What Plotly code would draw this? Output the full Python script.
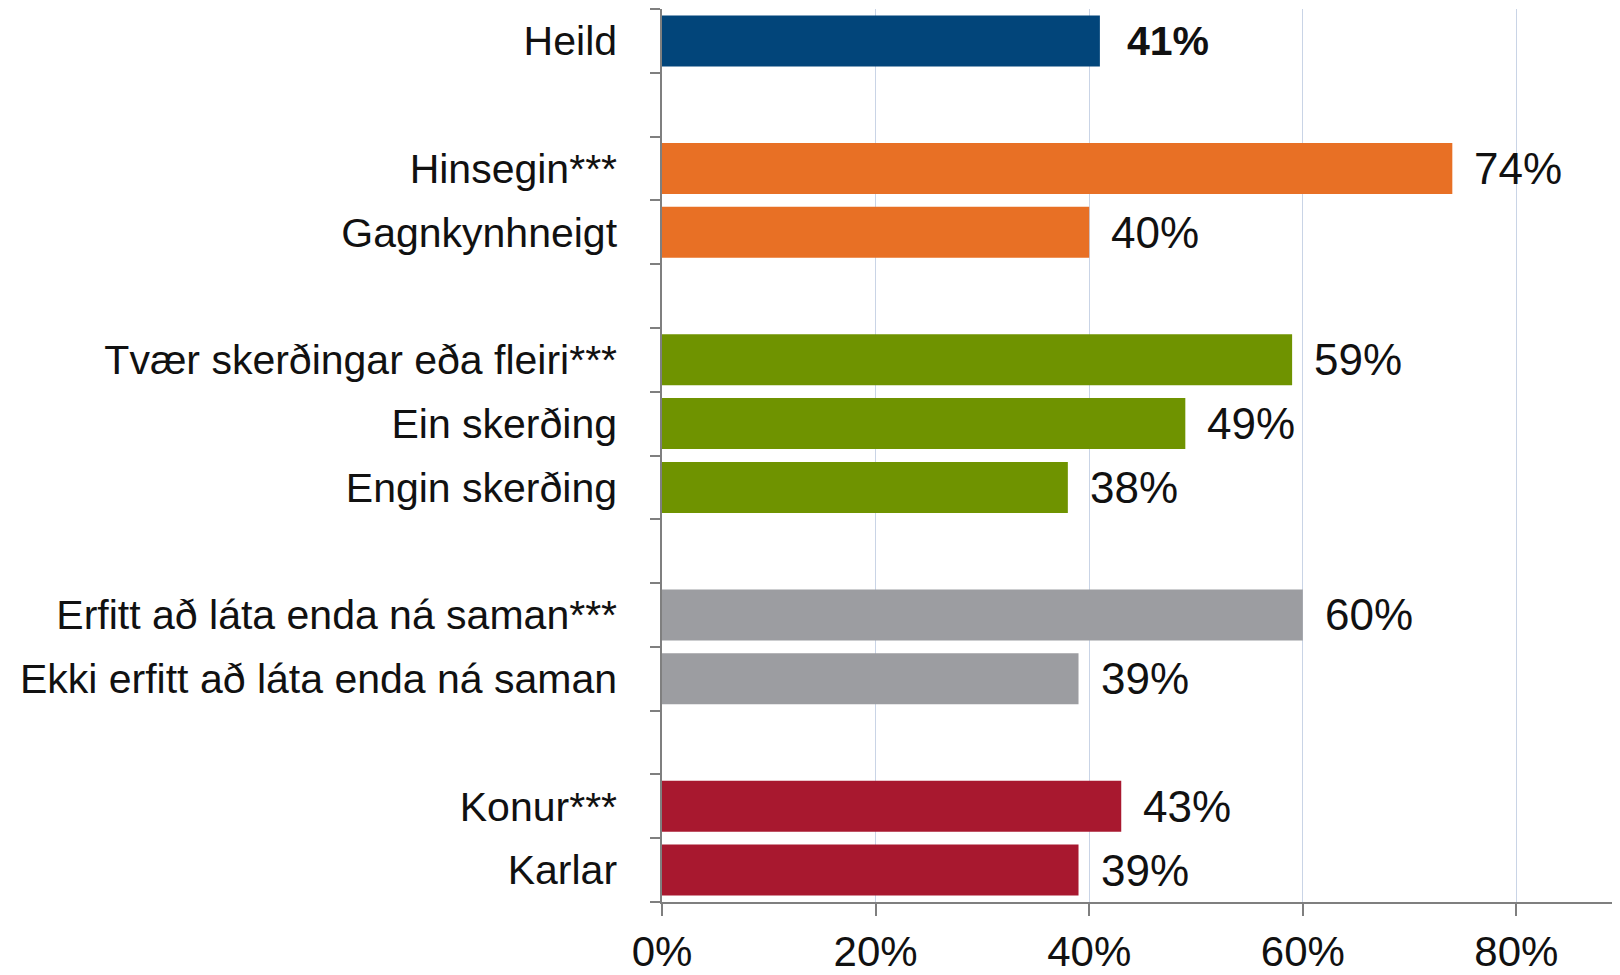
import plotly.graph_objects as go

categories = [
    "Heild",
    "Hinsegin***",
    "Gagnkynhneigt",
    "Tvær skerðingar eða fleiri***",
    "Ein skerðing",
    "Engin skerðing",
    "Erfitt að láta enda ná saman***",
    "Ekki erfitt að láta enda ná saman",
    "Konur***",
    "Karlar",
]
values = [41, 74, 40, 59, 49, 38, 60, 39, 43, 39]
groups = [0, 1, 1, 2, 2, 2, 3, 3, 4, 4]
group_colors = ["#02457A", "#E87025", "#6F9300", "#9C9DA1", "#A8182F"]
x_ticks = [0, 20, 40, 60, 80]

# row position: one empty row between groups
rows = [i + g for i, g in enumerate(groups)]
colors = [group_colors[g] for g in groups]
n_rows = rows[-1] + 1

FONT = "Liberation Sans, Arial, sans-serif"

fig = go.Figure()
fig.add_trace(go.Bar(
    x=values,
    y=rows,
    orientation="h",
    marker=dict(color=colors, line=dict(width=0)),
    hoverinfo="skip",
))

for i, (v, r) in enumerate(zip(values, rows)):
    bold = groups[i] == 0
    txt = f"<b>{v}%</b>" if bold else f"{v}%"
    fig.add_annotation(
        x=v, y=r, text=txt, showarrow=False,
        xanchor="left", yanchor="middle", xshift=25 if bold else 20,
        font=dict(family=FONT, size=41 if bold else 44, color="#111111"),
    )

# page body has an 8px margin; figure sized to fit the 1620x975 window
fig.update_layout(
    width=1612, height=967,
    margin=dict(l=654, r=0, t=1, b=73, autoexpand=False),
    paper_bgcolor="white", plot_bgcolor="white",
    bargap=0.2,
    showlegend=False,
    font=dict(family=FONT, color="#111111"),
)
fig.update_xaxes(
    range=[0, 89.7],
    tickvals=x_ticks,
    ticktext=[f"{t}%" for t in x_ticks],
    ticks="outside", ticklen=12, tickwidth=1.5, tickcolor="#7F7F7F",
    tickfont=dict(family=FONT, size=42, color="#111111"),
    showgrid=True, gridcolor="#C9D4E6", gridwidth=1,
    zeroline=False,
    showline=True, linecolor="#7F7F7F", linewidth=2,
    ticklabelstandoff=0,
    automargin=False,
    fixedrange=True,
)
fig.update_yaxes(
    range=[n_rows - 0.5, -0.5],
    tickvals=rows,
    ticktext=categories,
    ticks="", ticklabelstandoff=35,
    tickfont=dict(family=FONT, size=41, color="#111111"),
    showgrid=False, zeroline=False,
    showline=True, linecolor="#7F7F7F", linewidth=1.5,
    minor=dict(tick0=-0.5, dtick=1, ticks="outside", ticklen=10,
               tickwidth=1.5, tickcolor="#7F7F7F", showgrid=False),
    automargin=False,
    fixedrange=True,
)

fig.write_html("out.html")
